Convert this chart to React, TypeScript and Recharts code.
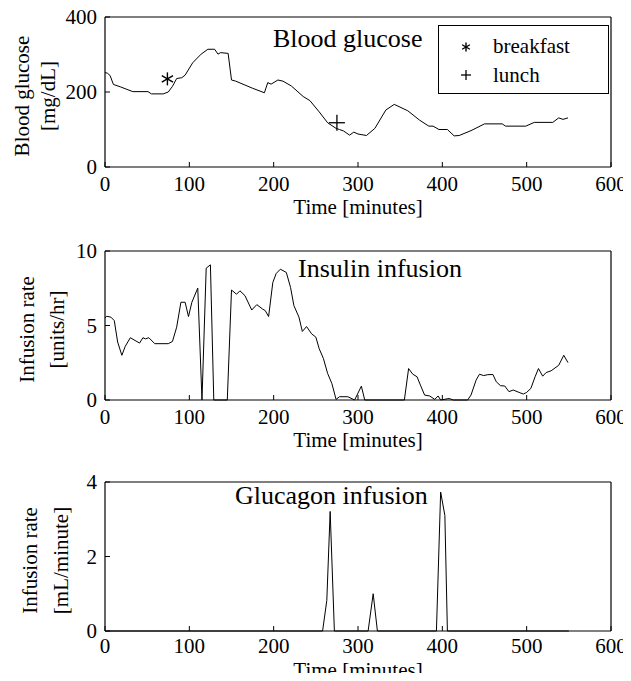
import React from 'react';
import { ComposedChart, Line, Scatter, XAxis, YAxis, Legend, Label } from 'recharts';

const FONT = '"Liberation Serif", "Times New Roman", serif';

const timeTicks = [0, 100, 200, 300, 400, 500, 600];
const glucoseTicks = [0, 200, 400];
const insulinTicks = [0, 5, 10];
const glucagonTicks = [0, 2, 4];

// blood glucose [mg/dL]
const glucoseTime = [0, 3, 6, 10, 18, 26, 33, 51, 55, 69, 75, 80, 85, 91, 95, 104, 114, 122, 130, 134, 137, 146, 150, 155, 175, 189, 193, 197, 205, 211, 221, 235, 243, 254, 264, 274, 278, 283, 290, 295, 300, 310, 320, 333, 343, 359, 373, 384, 389, 396, 406, 414, 420, 434, 450, 471, 475, 499, 509, 531, 538, 543, 549];
const glucoseValue = [252, 250, 244, 220, 214, 207, 201, 201, 195, 195, 200, 215, 236, 238, 245, 278, 301, 314, 314, 301, 305, 303, 232, 229, 210, 198, 225, 221, 232, 229, 216, 188, 177, 147, 118, 103, 100, 96, 85, 93, 88, 84, 103, 152, 167, 150, 125, 109, 109, 100, 100, 83, 84, 97, 115, 115, 109, 109, 119, 119, 131, 127, 131];

// insulin infusion [units/hr]
const insulinTime = [0, 2, 7, 11, 15, 20, 24, 30, 41, 45, 48, 52, 59, 75, 80, 85, 90, 95, 99, 103, 110, 115, 120, 125, 129, 145, 150, 156, 160, 166, 174, 180, 187, 190, 194, 199, 203, 208, 215, 220, 224, 230, 234, 239, 245, 250, 254, 259, 264, 269, 274, 278, 288, 296, 304, 308, 355, 360, 365, 370, 374, 379, 385, 391, 395, 398, 408, 413, 430, 434, 440, 444, 449, 454, 460, 464, 469, 474, 479, 484, 491, 496, 500, 505, 510, 514, 519, 523, 529, 538, 544, 549];
const insulinValue = [5.5, 5.62, 5.56, 5.33, 3.89, 3.0, 3.6, 4.18, 3.82, 4.18, 4.1, 4.18, 3.78, 3.78, 3.93, 4.89, 6.56, 6.56, 5.6, 6.56, 7.51, 0, 8.85, 9.07, 0, 0, 7.38, 7.1, 7.33, 7.0, 6.04, 6.4, 6.1, 6.0, 5.6, 7.89, 8.49, 8.78, 8.56, 7.56, 6.33, 5.56, 4.6, 4.93, 4.44, 4.22, 3.44, 2.78, 1.78, 1.11, 0.04, 0.22, 0.22, 0, 0.93, 0, 0, 2.11, 1.73, 1.56, 1.0, 0.33, 0.27, 0.04, 0.27, 0, 0.1, 0, 0, 0.33, 1.33, 1.73, 1.64, 1.7, 1.71, 1.22, 0.96, 0.94, 0.56, 0.67, 0.51, 0.4, 0.51, 0.78, 1.56, 2.11, 1.6, 1.84, 1.96, 2.33, 3.0, 2.51];

// glucagon infusion [mL/minute]
const glucagonTime = [0, 258, 263, 267, 272, 312, 318, 323, 393, 398, 403, 406, 550];
const glucagonValue = [0, 0, 0.82, 3.21, 0, 0, 1.0, 0, 0, 3.73, 3.1, 0, 0];

// meal markers
const mealNames = ['breakfast', 'lunch'];
const mealTime = [74, 275];
const mealGlucose = [235, 118];

type Row = { t: number; v: number };
const toRows = (ts: number[], vs: number[]): Row[] => ts.map((t, i) => ({ t, v: vs[i] }));

const Asterisk = ({ cx, cy, r }: { cx: number; cy: number; r: number }) => {
  const dx = r * Math.cos(Math.PI / 6);
  const dy = r * Math.sin(Math.PI / 6);
  return (
    <g stroke="#000" strokeWidth={1.4}>
      <line x1={cx} y1={cy - r} x2={cx} y2={cy + r} />
      <line x1={cx - dx} y1={cy - dy} x2={cx + dx} y2={cy + dy} />
      <line x1={cx - dx} y1={cy + dy} x2={cx + dx} y2={cy - dy} />
    </g>
  );
};

const Plus = ({ cx, cy, r }: { cx: number; cy: number; r: number }) => (
  <g stroke="#000" strokeWidth={1.3}>
    <line x1={cx} y1={cy - r} x2={cx} y2={cy + r} />
    <line x1={cx - r} y1={cy} x2={cx + r} y2={cy} />
  </g>
);

const MealLegend = () => (
  <svg width={171} height={69} style={{ display: 'block' }}>
    <rect x={0.5} y={0.5} width={170} height={68} fill="#fff" stroke="#000" />
    {mealNames.map((name, i) => (
      <g key={name}>
        {i === 0 ? <Asterisk cx={28} cy={22} r={4.5} /> : <Plus cx={28} cy={50} r={5} />}
        <text x={55} y={28 + i * 28.5} fontSize={21} fontFamily={FONT} fill="#000">
          {name}
        </text>
      </g>
    ))}
  </svg>
);

type PanelProps = {
  height: number;
  top: number;
  bottom: number;
  rows: Row[];
  yDomain: [number, number];
  yTicks: number[];
  yLabel: [string, string];
  yLabelX: [number, number];
  title: string;
  titleX: number;
  titleY: number;
  tickGap: number;
  xLabelGap: number;
  children?: React.ReactNode;
};

function Panel({ height, top, bottom, rows, yDomain, yTicks, yLabel, yLabelX, title, titleX, titleY, tickGap, xLabelGap, children }: PanelProps) {
  const tickStyle = { fill: '#000', fontSize: 21, fontFamily: FONT };
  return (
    <ComposedChart width={631} height={height} margin={{ top, right: 20, bottom, left: 25 }} style={{ fontFamily: FONT }}>
      <XAxis
        xAxisId="b"
        dataKey="t"
        type="number"
        domain={[0, 600]}
        ticks={timeTicks}
        interval={0}
        height={50}
        tickSize={-5}
        tickMargin={tickGap}
        axisLine={{ stroke: '#000', strokeWidth: 1.2 }}
        tickLine={{ stroke: '#000' }}
        tick={tickStyle}
      >
        <Label
          content={(props: any) => {
            const vb = props.viewBox;
            return (
              <text x={vb.x + vb.width / 2} y={vb.y + xLabelGap} textAnchor="middle" fontSize={21} fontFamily={FONT} fill="#000">
                Time [minutes]
              </text>
            );
          }}
        />
      </XAxis>
      <XAxis
        xAxisId="t"
        orientation="top"
        type="number"
        domain={[0, 600]}
        ticks={timeTicks}
        interval={0}
        height={1}
        mirror
        tick={false}
        tickSize={5}
        axisLine={{ stroke: '#000', strokeWidth: 1.2 }}
        tickLine={{ stroke: '#000' }}
      />
      <YAxis
        yAxisId="l"
        type="number"
        domain={yDomain}
        ticks={yTicks}
        interval={0}
        width={80}
        tickSize={-5}
        tickMargin={13}
        axisLine={{ stroke: '#000', strokeWidth: 1.2 }}
        tickLine={{ stroke: '#000' }}
        tick={tickStyle}
      >
        <Label
          content={(props: any) => {
            const vb = props.viewBox;
            const cy = vb.y + vb.height / 2 + 4;
            return (
              <g>
                {yLabel.map((s, i) => (
                  <text
                    key={s}
                    x={yLabelX[i]}
                    y={cy}
                    transform={`rotate(-90 ${yLabelX[i]} ${cy})`}
                    textAnchor="middle"
                    dominantBaseline="central"
                    fontSize={21}
                    fontFamily={FONT}
                    fill="#000"
                  >
                    {s}
                  </text>
                ))}
              </g>
            );
          }}
        />
      </YAxis>
      <YAxis
        yAxisId="r"
        orientation="right"
        type="number"
        domain={yDomain}
        ticks={yTicks}
        interval={0}
        width={1}
        mirror
        tick={false}
        tickSize={5}
        axisLine={{ stroke: '#000', strokeWidth: 1.2 }}
        tickLine={{ stroke: '#000' }}
      />
      <Line
        xAxisId="b"
        yAxisId="l"
        data={rows}
        dataKey="v"
        type="linear"
        stroke="#000"
        strokeWidth={1}
        dot={false}
        activeDot={false}
        legendType="none"
        isAnimationActive={false}
      />
      <text x={titleX} y={titleY} fontSize={26} fontFamily={FONT} fill="#000">
        {title}
      </text>
      {children}
    </ComposedChart>
  );
}

export default function App() {
  const meals = mealNames.map((name, i) => ({ name, rows: [{ t: mealTime[i], v: mealGlucose[i] }] }));
  return (
    <div style={{ width: 631, height: 681, margin: -8, overflow: 'hidden' }}>
      <Panel
        height={231}
        top={17}
        bottom={14}
        rows={toRows(glucoseTime, glucoseValue)}
        yDomain={[0, 400]}
        yTicks={glucoseTicks}
        yLabel={['Blood glucose', '[mg/dL]']}
        yLabelX={[22, 48]}
        title="Blood glucose"
        titleX={273}
        titleY={47}
        tickGap={14.5}
        xLabelGap={47}
      >
        {meals.map((m, i) => (
          <Scatter
            key={m.name}
            name={m.name}
            xAxisId="b"
            yAxisId="l"
            data={m.rows}
            dataKey="v"
            isAnimationActive={false}
            shape={(p: any) => (i === 0 ? <Asterisk cx={p.cx} cy={p.cy} r={6.5} /> : <Plus cx={p.cx} cy={p.cy} r={8} />)}
          />
        ))}
        <Legend
          layout="vertical"
          align="center"
          verticalAlign="middle"
          wrapperStyle={{ position: 'absolute', left: 438, top: 25, width: 171, height: 69 }}
          content={() => <MealLegend />}
        />
      </Panel>
      <Panel
        height={231}
        top={20}
        bottom={12}
        rows={toRows(insulinTime, insulinValue)}
        yDomain={[0, 10]}
        yTicks={insulinTicks}
        yLabel={['Infusion rate', '[units/hr]']}
        yLabelX={[27, 57]}
        title="Insulin infusion"
        titleX={298}
        titleY={46}
        tickGap={14.5}
        xLabelGap={47}
      />
      <Panel
        height={219}
        top={20}
        bottom={0}
        rows={toRows(glucagonTime, glucagonValue)}
        yDomain={[0, 4]}
        yTicks={glucagonTicks}
        yLabel={['Infusion rate', '[mL/minute]']}
        yLabelX={[30, 61]}
        title="Glucagon infusion"
        titleX={235}
        titleY={42}
        tickGap={12.5}
        xLabelGap={45.5}
      />
    </div>
  );
}
